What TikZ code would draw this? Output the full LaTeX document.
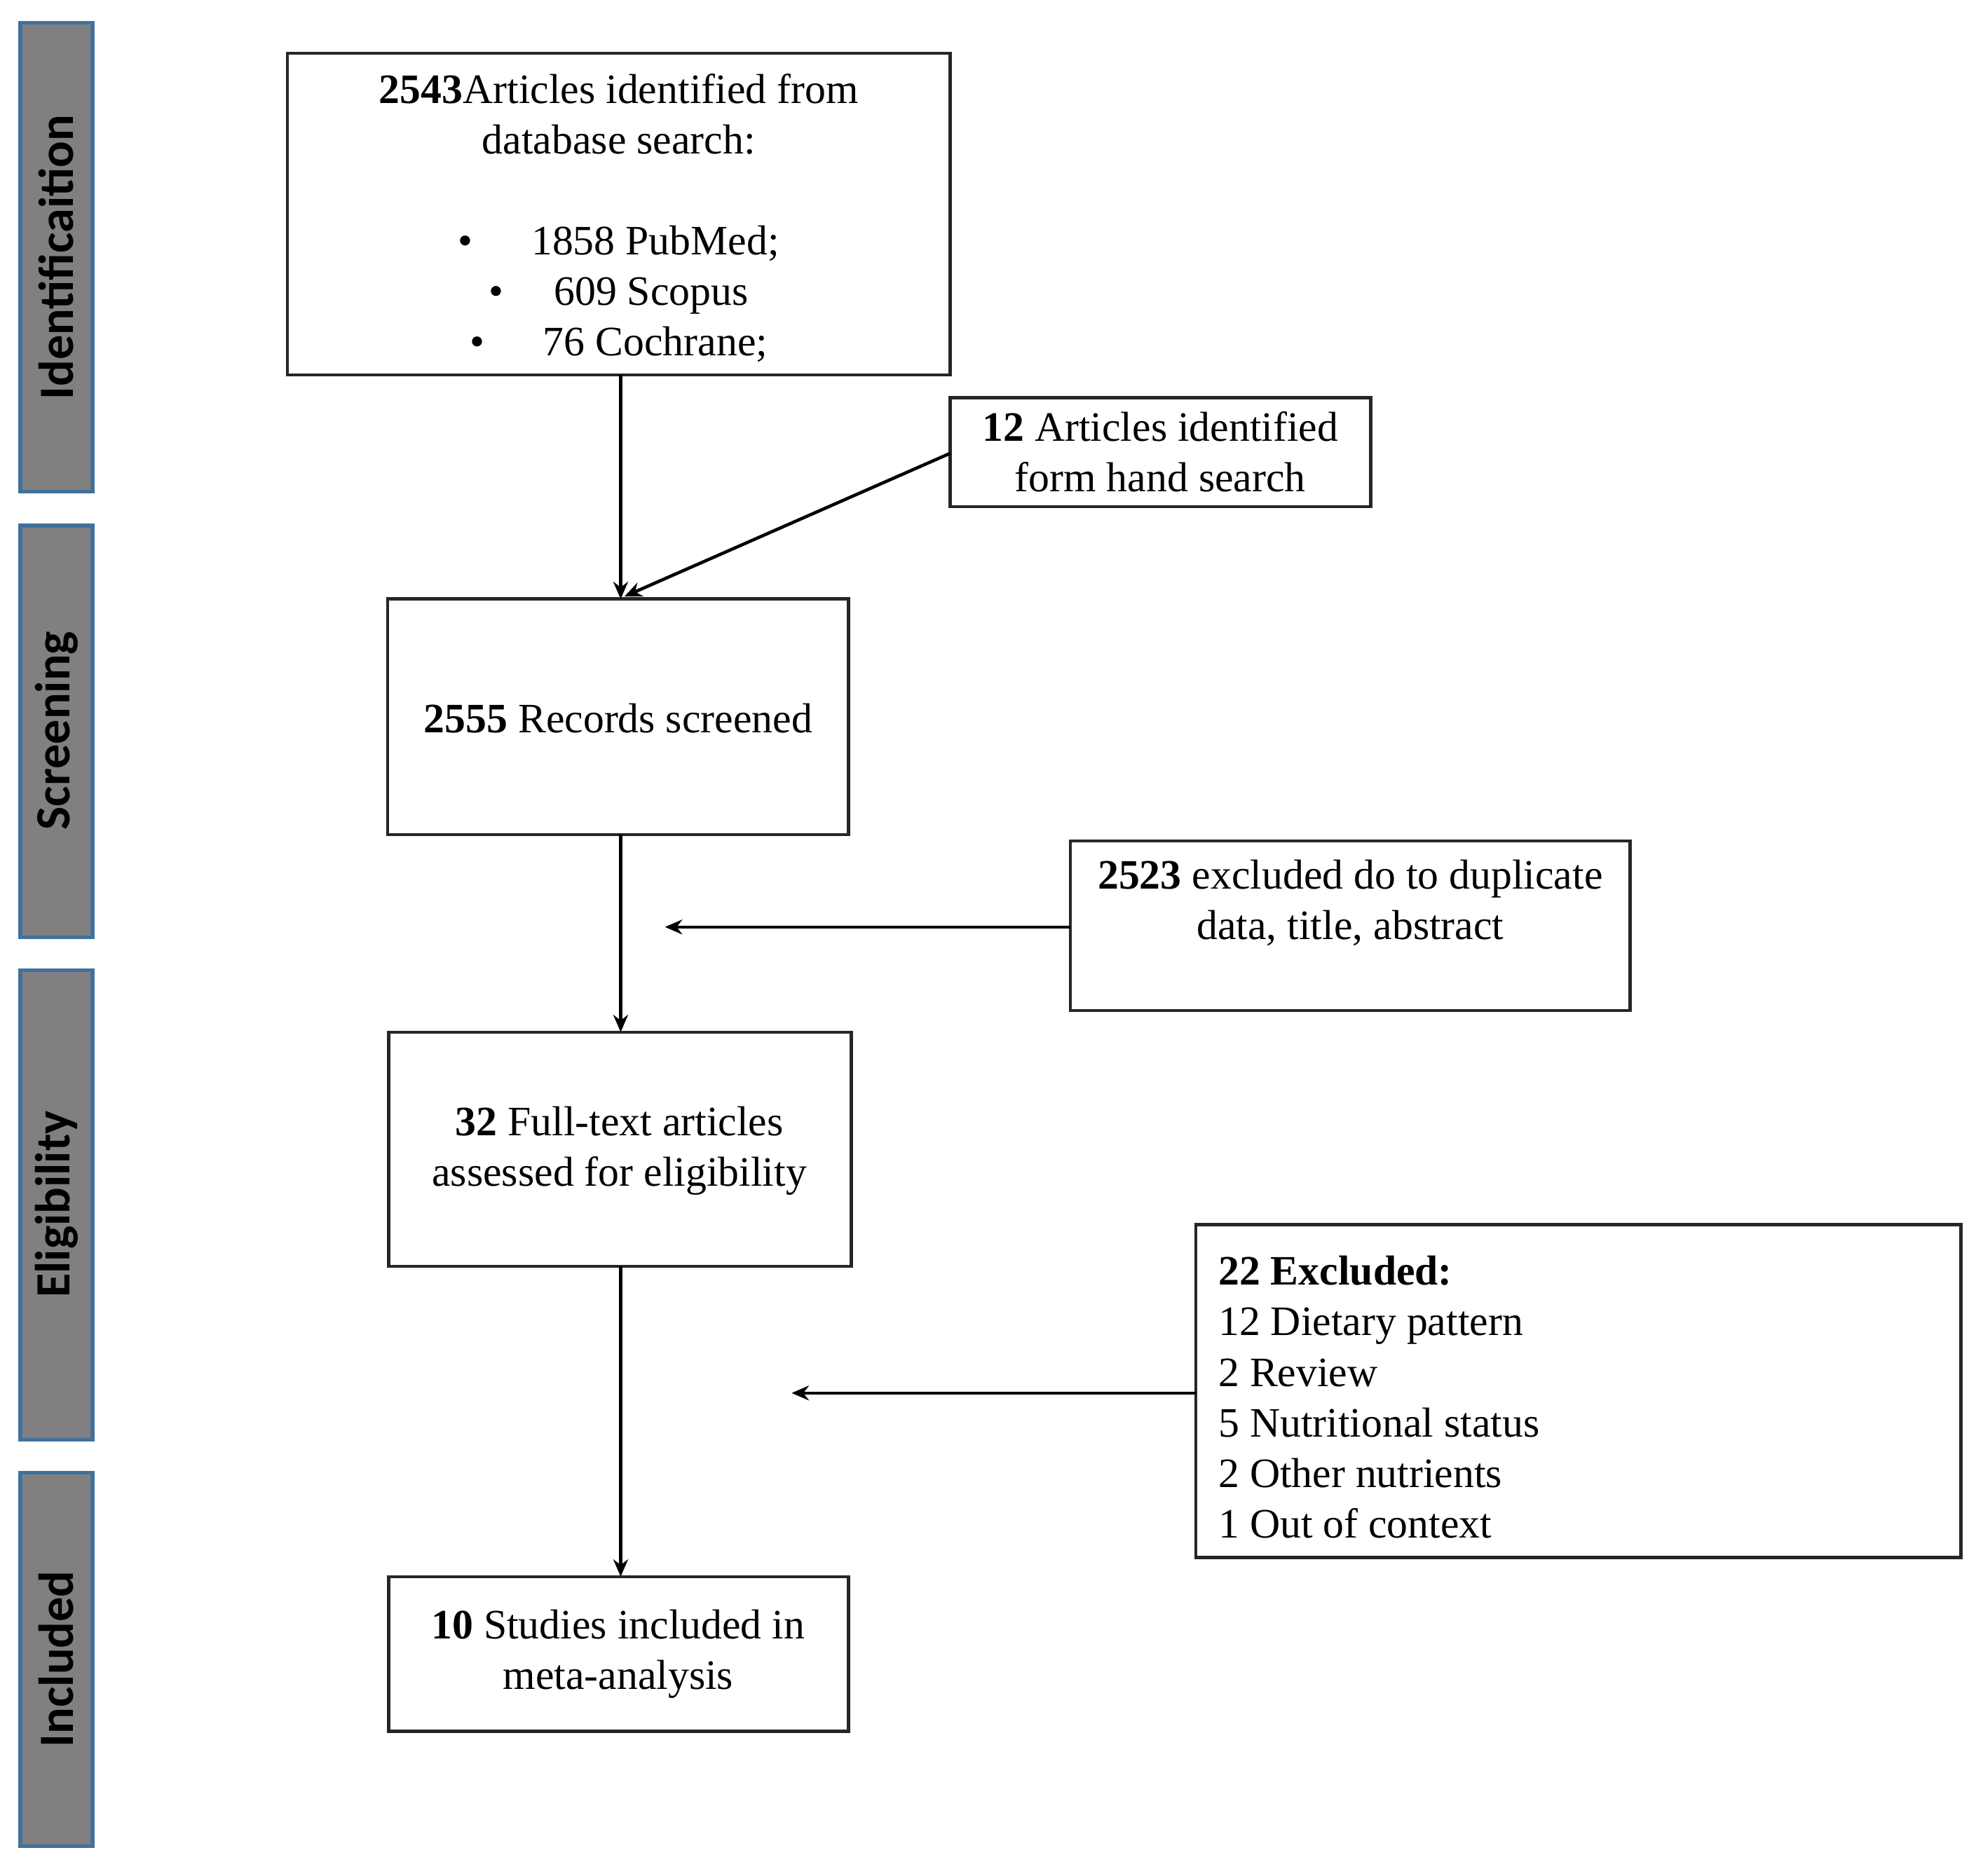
\documentclass[tikz,border=0pt]{standalone}
\usepackage{fontspec}
\setmainfont{Liberation Serif}
\newfontfamily\sidefont{Carlito}
\usetikzlibrary{arrows.meta}
\begin{document}
\begin{tikzpicture}[x=0.01807cm,y=-0.01807cm,
  box/.style={draw=black!85,line width=1.3pt,fill=white},
  side/.style={draw={rgb,255:red,65;green,113;blue,156},line width=1.5pt,fill=black!50},
  sidelbl/.style={rotate=90,font=\sidefont\fontsize{20}{24}\selectfont\bfseries},
  txt/.style={font=\fontsize{17}{20.5}\selectfont,align=center},
  arr/.style={line width=1.3pt,-{Stealth[length=7pt,width=6pt]}}]
\useasboundingbox (0,0) rectangle (1560,1481);
% side bars
\draw[side] (16,18) rectangle (73,388); \node[sidelbl] (s1) at (44.5,203) {Identificaition};
\draw[side] (16,415) rectangle (73,740); \node[sidelbl] (s2) at (44.5,577) {Screening};
\draw[side] (16,766) rectangle (73,1137); \node[sidelbl] (s3) at (44.5,951) {Eligibility};
\draw[side] (16,1163) rectangle (73,1458); \node[sidelbl] (s4) at (44.5,1310) {Included};
% boxes
\draw[box] (227,42) rectangle (750,296);
\node[txt] (b1) at (488.5,172) {\textbf{2543}Articles identified from\\database search:\\[20.5pt]
\textbullet\hspace{1.4em}1858 PubMed;\\ \textbullet\hspace{1.2em}609 Scopus\\ \textbullet\hspace{1.4em}76 Cochrane;};
\coordinate (b1b) at (490,296);
\draw[box] (750,314) rectangle (1082,400);
\node[txt] (hand) at (916,357) {\textbf{12} Articles identified\\form hand search};
\coordinate (handl) at (750,358);
\draw[box] (306,473) rectangle (670,659);
\node[txt] (scr) at (488,567) {\textbf{2555} Records screened};
\coordinate (scrt) at (490,473); \coordinate (scrt2) at (493,471); \coordinate (scrb) at (490,659);
\draw[box] (845,664) rectangle (1287,798);
\node[txt] (ex1) at (1066,713) {\textbf{2523} excluded do to duplicate\\data, title, abstract};
\coordinate (ex1l) at (845,732); \coordinate (ex1t) at (525,732);
\draw[box] (307,815) rectangle (672,1000);
\node[txt] (ft) at (489,909) {\textbf{32} Full-text articles\\assessed for eligibility};
\coordinate (ftt) at (490,815); \coordinate (ftb) at (490,1000);
\draw[box] (944,967) rectangle (1548,1230);
\node[txt,align=left,anchor=north west] (ex2) at (955,985) {\textbf{22 Excluded:}\\12 Dietary pattern\\2 Review\\5 Nutritional status\\2 Other nutrients\\1 Out of context};
\coordinate (ex2l) at (944,1100); \coordinate (ex2t) at (625,1100);
\draw[box] (307,1245) rectangle (670,1367);
\node[txt] (inc) at (488,1306) {\textbf{10} Studies included in\\meta-analysis};
\coordinate (inct) at (490,1245);
% arrows
\draw[arr] (b1b) -- (scrt);
\draw[arr] (handl) -- (scrt2);
\draw[arr] (scrb) -- (ftt);
\draw[arr] (ex1l) -- (ex1t);
\draw[arr] (ftb) -- (inct);
\draw[arr] (ex2l) -- (ex2t);
\end{tikzpicture}
\end{document}
